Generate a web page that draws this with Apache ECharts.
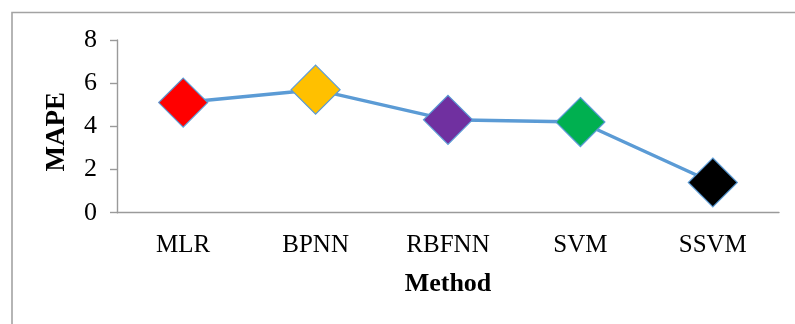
<!DOCTYPE html>
<html>
<head>
<meta charset="utf-8">
<script src="https://cdn.jsdelivr.net/npm/echarts@6/dist/echarts.min.js"></script>
<style>
  html, body { margin: 0; padding: 0; background: #ffffff; }
  #chart { width: 795px; height: 324px; }
</style>
</head>
<body>
<div id="chart"></div>
<script>
// Forecast error per method
const methods = ['MLR', 'BPNN', 'RBFNN', 'SVM', 'SSVM'];
const mapeValues = [5.1, 5.7, 4.3, 4.2, 1.4];
const markerColors = ['#ff0000', '#ffc000', '#7030a0', '#00b050', '#000000'];
const yTicks = [0, 2, 4, 6, 8];

const serif = '"Liberation Serif", "Times New Roman", serif';
const axisGray = '#9a9a9a';

const chart = echarts.init(document.getElementById('chart'), null, { renderer: 'canvas' });

chart.setOption({
  backgroundColor: '#ffffff',
  animation: false,
  graphic: [{
    type: 'rect',
    left: 9.5,
    top: 10,
    shape: { width: 900, height: 400 },
    style: { fill: 'none', stroke: '#a3a3a3', lineWidth: 1.6 },
    silent: true,
    z: -1
  }],
  grid: { left: 117, right: 16, top: 40, bottom: 111.3, containLabel: false },
  xAxis: {
    type: 'category',
    data: methods,
    boundaryGap: true,
    name: 'Method',
    nameLocation: 'middle',
    nameGap: 59,
    nameTextStyle: { fontFamily: serif, fontWeight: 'bold', fontSize: 26, color: '#000' },
    axisLine: { lineStyle: { color: axisGray, width: 1.4 } },
    axisTick: { show: false },
    axisLabel: { fontFamily: serif, fontSize: 25, color: '#000', margin: 20 },
    splitLine: { show: false }
  },
  yAxis: {
    type: 'value',
    min: yTicks[0],
    max: yTicks[yTicks.length - 1],
    interval: yTicks[1] - yTicks[0],
    name: 'MAPE',
    nameLocation: 'middle',
    nameGap: 46,
    nameTextStyle: { fontFamily: serif, fontWeight: 'bold', fontSize: 27, color: '#000', padding: [0, 11, 0, 0] },
    axisLine: { show: true, lineStyle: { color: axisGray, width: 1.4 } },
    axisTick: { show: true, inside: false, length: 7, lineStyle: { color: axisGray, width: 1.4 } },
    axisLabel: { fontFamily: serif, fontSize: 26, color: '#000', margin: 20 },
    splitLine: { show: false }
  },
  series: [{
    type: 'line',
    data: mapeValues.map((v, i) => ({
      value: v,
      itemStyle: { color: markerColors[i], borderColor: '#5b9bd5', borderWidth: 1.2 }
    })),
    symbol: 'diamond',
    symbolSize: [49, 49],
    lineStyle: { color: '#5b9bd5', width: 3.5 },
    itemStyle: { borderColor: '#5b9bd5', borderWidth: 1.2 },
    showSymbol: true,
    label: { show: false }
  }]
});
</script>
</body>
</html>
